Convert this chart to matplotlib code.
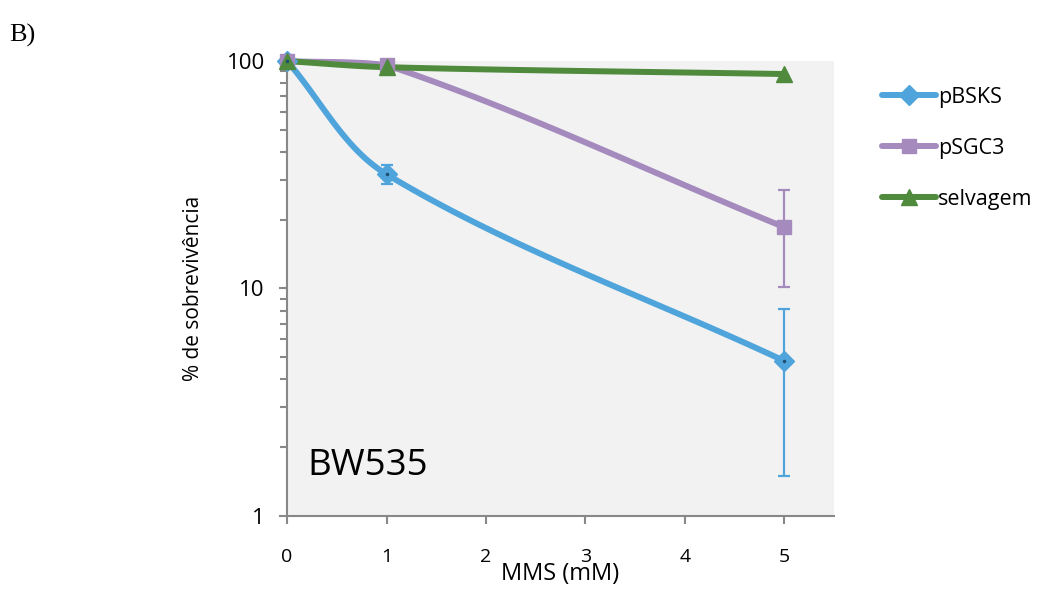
import numpy as np
import matplotlib
matplotlib.use("Agg")
import matplotlib.pyplot as plt
from matplotlib.ticker import LogLocator, NullFormatter, FixedLocator

# data
mms = [0, 1, 5]
pbsks = [100, 31.8, 4.8]
pbsks_err = [0, 3.0, 3.3]
psgc3 = [100, 96, 18.6]
psgc3_err = [0, 0, 8.4]
selvagem = [100, 94, 87.7]
selvagem_err = [0, 0, 0]
labels = ['pBSKS', 'pSGC3', 'selvagem']

plt.rcParams['font.family'] = ['Open Sans', 'DejaVu Sans']


def smooth(ax, x, y, n=60):
    # Excel-like smoothed line: bezier segments built in display space
    pts = ax.transData.transform(np.column_stack([x, y]))
    P = np.vstack([pts[0], pts, pts[-1]])
    out = []
    for i in range(1, len(P) - 2):
        p0, p1, p2, p3 = P[i - 1], P[i], P[i + 1], P[i + 2]
        d = np.linalg.norm(p2 - p1)
        t1 = (p2 - p0) / np.linalg.norm(p2 - p0)
        t2 = (p3 - p1) / np.linalg.norm(p3 - p1)
        c1 = p1 + t1 * d / 3
        c2 = p2 - t2 * d / 3
        # keep the curve from overshooting the segment's end values
        lo, hi = min(p1[1], p2[1]), max(p1[1], p2[1])
        c1[1] = np.clip(c1[1], lo, hi)
        c2[1] = np.clip(c2[1], lo, hi)
        t = np.linspace(0, 1, n)[:, None]
        out.append((1 - t) ** 3 * p1 + 3 * (1 - t) ** 2 * t * c1 + 3 * (1 - t) * t ** 2 * c2 + t ** 3 * p2)
    out = ax.transData.inverted().transform(np.vstack(out))
    return out[:, 0], out[:, 1]


fig = plt.figure(figsize=(10.4, 5.93), dpi=100)
ax = fig.add_axes([0.276, 0.130, 0.526, 0.767])
ax.set_facecolor('#f2f2f2')
ax.set_yscale('log')
ax.set_ylim(1, 100)
ax.set_xlim(0, 5.5)

series = [
    (pbsks, pbsks_err, '#4fa5db', 'D', 10),
    (psgc3, psgc3_err, '#a48abd', 's', 10),
    (selvagem, selvagem_err, '#4f8a3d', '^', 12),
]
handles = []
for (vals, err, col, mk, ms), lab in zip(series, labels):
    sx, sy = smooth(ax, mms, vals)
    ax.plot(sx, sy, color=col, lw=4.3, solid_capstyle='round', zorder=2, clip_on=False)
    e = np.array(err, float)
    ax.errorbar(mms, vals, yerr=np.where(e > 0, e, np.nan), fmt='none', ecolor=col,
                elinewidth=1.6, capsize=4.5, capthick=1.6, zorder=3)
    ax.plot(mms, vals, linestyle='none', marker=mk, ms=ms, color=col, zorder=4, clip_on=False)
    if mk == 'D':
        ax.plot(mms, vals, linestyle='none', marker='.', ms=3, color='#1f4e6e', zorder=5, clip_on=False)
    h, = ax.plot([], [], color=col, lw=4.3, marker=mk, ms=ms, solid_capstyle='round')
    handles.append(h)

ax.xaxis.set_major_locator(FixedLocator([0, 1, 2, 3, 4, 5]))
ax.yaxis.set_major_locator(FixedLocator([1, 10, 100]))
ax.set_yticklabels(['1', '10', '100'])
ax.yaxis.set_minor_locator(LogLocator(base=10, subs=np.arange(2, 10)))
ax.yaxis.set_minor_formatter(NullFormatter())

for s in ['top', 'right']:
    ax.spines[s].set_visible(False)
for s in ['left', 'bottom']:
    ax.spines[s].set_color('#888888')
    ax.spines[s].set_linewidth(1.5)
ax.tick_params(axis='both', which='major', color='#888888', width=1.5, length=6)
ax.tick_params(axis='y', which='minor', color='#888888', width=1.5, length=5)
ax.tick_params(axis='x', labelsize=14, pad=17)
ax.tick_params(axis='y', labelsize=16, pad=10)

ax.set_xlabel('MMS (mM)', fontsize=17, labelpad=-2.5)
ax.set_ylabel('% de sobrevivência', fontsize=15, labelpad=16)

ax.text(0.037, 0.07, 'BW535', transform=ax.transAxes, fontsize=26.5, ha='left', va='bottom')
fig.text(0.009, 0.93, 'B)', family='Liberation Serif', fontsize=19)

fig.legend(handles, labels, loc='upper left', bbox_to_anchor=(0.838, 0.872), frameon=False,
           borderpad=0, fontsize=15.5, handlelength=2.5, handletextpad=0.1, labelspacing=1.4)

fig.savefig('out.png', dpi=100)
